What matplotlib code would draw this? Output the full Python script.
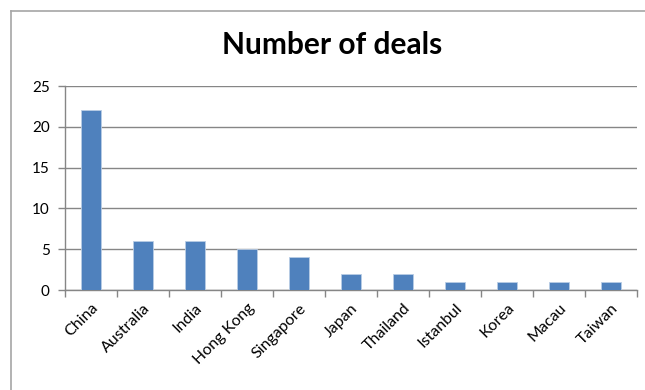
import matplotlib
matplotlib.use("Agg")
import matplotlib.pyplot as plt
from matplotlib.lines import Line2D
import numpy as np

countries = ["China", "Australia", "India", "Hong Kong", "Singapore", "Japan",
             "Thailand", "Istanbul", "Korea", "Macau", "Taiwan"]
deals = [22, 6, 6, 5, 4, 2, 2, 1, 1, 1, 1]
y_ticks = [0, 5, 10, 15, 20, 25]

plt.rcParams["font.family"] = ["Lato", "DejaVu Sans"]

fig = plt.figure(figsize=(6.45, 3.9), dpi=100)
fig.patch.set_facecolor("white")

# chart frame: top and left edges (the rest runs off the canvas)
fx, fy = 11 / 645, 1 - 11 / 390
fig.add_artist(Line2D([fx, 1.05], [fy, fy], transform=fig.transFigure,
                      color="#a6a6a6", linewidth=1.2))
fig.add_artist(Line2D([fx, fx], [fy, -0.05], transform=fig.transFigure,
                      color="#a6a6a6", linewidth=1.2))

ax = fig.add_axes([65 / 645, 1 - 290 / 390, (637 - 65) / 645, (290 - 86) / 390])

x = np.arange(len(countries))
ax.bar(x, deals, width=0.4, color="#4f81bd", edgecolor="#b9cde5", linewidth=0.6, zorder=3)

ax.set_xlim(-0.5, len(countries) - 0.5)
ax.set_ylim(0, 25)
ax.set_yticks(y_ticks)
ax.set_yticklabels([str(v) for v in y_ticks], fontsize=11)
ax.yaxis.grid(True, color="#868686", linewidth=1.0, zorder=0)
ax.set_axisbelow(True)

# category boundaries as tick marks, labels centred under bars
ax.set_xticks(np.arange(-0.5, len(countries), 1.0))
ax.set_xticklabels([])
ax.set_xticks(x, minor=True)
ax.set_xticklabels(countries, minor=True, rotation=45, ha="right",
                   rotation_mode="anchor", fontsize=11.5)
ax.tick_params(axis="x", which="minor", length=0, pad=8)
ax.tick_params(axis="x", which="major", length=5, color="#868686", width=1.0)
ax.tick_params(axis="y", length=5, color="#868686", width=1.0, pad=6)

for side in ("top", "right"):
    ax.spines[side].set_visible(False)
for side in ("left", "bottom"):
    ax.spines[side].set_color("#868686")
    ax.spines[side].set_linewidth(1.0)

fig.text(332 / 645, 1 - 45 / 390, "Number of deals", ha="center", va="center",
         fontsize=21.5, fontweight="bold")

fig.savefig("out.png", dpi=100, facecolor="white")
